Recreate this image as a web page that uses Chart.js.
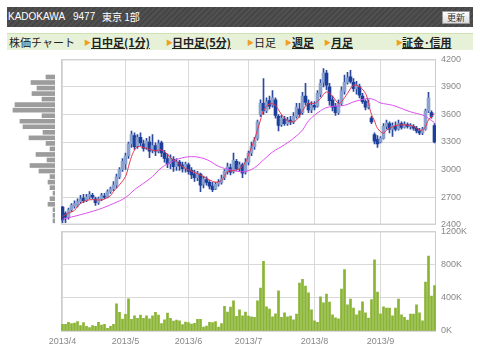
<!DOCTYPE html>
<html>
<head>
<meta charset="utf-8">
<script src="https://cdn.jsdelivr.net/npm/chart.js@4.4.0/dist/chart.umd.min.js"></script>
<style>
body { margin:0; background:#fff; width:480px; height:354px; position:relative; overflow:hidden; font-family:"Liberation Sans", Arial, "Noto Sans CJK JP", sans-serif; }
#head { position:absolute; left:7px; top:7px; width:466px; height:20px; background:repeating-linear-gradient(135deg,#505050 0 2px,#464646 2px 4px); color:#fff; font-size:10px; line-height:20px; }
#head span { position:absolute; top:0; white-space:nowrap; }
#head .btn { left:435px; top:4px; width:26px; height:11px; background:linear-gradient(#fff,#dcdcdc); border:1px solid #999; color:#333; font-size:9px; line-height:11px; text-align:center; font-family:"Noto Sans CJK JP"; }
#nav { position:absolute; left:7px; top:33px; width:466px; height:16px; background:#e7f1d8; border-top:1px solid #cfe2b5; font-size:11px; line-height:16px; color:#222; font-family:"Noto Sans CJK JP"; }
#nav span { position:absolute; top:0; white-space:nowrap; }
#nav .ar { color:#f0a020; font-size:7px; }
#nav .lk { font-weight:bold; text-decoration:underline; }
canvas { position:absolute; }
</style>
</head>
<body>
<div id="head">
  <span style="left:1px">KADOKAWA</span>
  <span style="left:66px">9477</span>
  <span style="left:95px;font-family:'Noto Sans CJK JP'">東京 1部</span>
  <span class="btn">更新</span>
</div>
<div id="nav">
  <span style="left:2px">株価チャート</span>
  <span class="ar" style="left:77px">▶</span><span class="lk" style="left:84px">日中足(1分)</span>
  <span class="ar" style="left:159px">▶</span><span class="lk" style="left:165px">日中足(5分)</span>
  <span class="ar" style="left:240px">▶</span><span style="left:247px">日足</span>
  <span class="ar" style="left:278px">▶</span><span class="lk" style="left:285px">週足</span>
  <span class="ar" style="left:317px">▶</span><span class="lk" style="left:324px">月足</span>
  <span class="ar" style="left:389px">▶</span><span class="lk" style="left:395px">証金･信用</span>
</div>
<canvas id="profile" width="58" height="180" style="left:0;top:50px"></canvas>
<canvas id="price" width="480" height="186" style="left:0;top:49px"></canvas>
<canvas id="volume" width="480" height="133" style="left:0;top:221px"></canvas>
<script>
// trading days, 2013/4 - 2013/9
const aprDays = [1,2,3,4,5,8,9,10,11,12,15,16,17,18,19,22,23,24,25,26,30];
const mayDays = [1,2,7,8,9,10,13,14,15,16,17,20,21,22,23,24,27,28,29,30,31];
const junDays = [3,4,5,6,7,10,11,12,13,14,17,18,19,20,21,24,25,26,27,28];
const julDays = [1,2,3,4,5,8,9,10,11,12,16,17,18,19,22,23,24,25,26,29,30,31];
const augDays = [1,2,5,6,7,8,9,12,13,14,15,16,19,20,21,22,23,26,27,28,29,30];
const sepDays = [2,3,4,5,6,9,10,11,12,13,17,18,19,20,24,25,26,27,30];
const monthLabels = ['2013/4','2013/5','2013/6','2013/7','2013/8','2013/9'];

const opens = [
2590,2520,2480,2560,2600,2610,2650,2690,2660,2700,
2720,2680,2640,2680,2710,2700,2760,2790,2830,2920,
3000,3060,3150,3280,3370,3260,3350,3280,3240,3300,
3210,3260,3200,3290,3180,3120,3060,3110,3030,3080,
3050,3010,3050,2990,2950,2910,2950,2840,2890,2860,
2820,2790,2840,2860,2910,2980,3020,2980,3090,3010,
3050,2970,3080,3180,3250,3340,3600,3720,3640,3750,
3700,3760,3580,3490,3550,3500,3540,3520,3580,3660,
3620,3800,3720,3650,3700,3690,3820,3950,4050,3900,
3760,3690,3620,3720,3850,3950,4010,3950,3880,3900,
3800,3740,3680,3560,3380,3330,3300,3340,3470,3500,
3440,3470,3440,3500,3460,3490,3470,3470,3450,3420,
3400,3440,3640,3620,3480];
const closes = [
2450,2480,2560,2610,2630,2650,2680,2660,2700,2730,
2700,2640,2680,2720,2700,2760,2790,2830,2920,3000,
3090,3150,3280,3380,3250,3350,3290,3230,3310,3200,
3260,3200,3280,3180,3120,3060,3120,3030,3080,3040,
3010,3060,2980,2940,2910,2960,2830,2900,2860,2820,
2780,2840,2860,2900,2980,3030,2970,3100,3010,3050,
2960,3080,3180,3250,3320,3520,3720,3640,3740,3690,
3780,3590,3480,3560,3500,3540,3520,3580,3680,3600,
3800,3730,3650,3700,3680,3830,3940,4050,3920,3750,
3680,3620,3720,3860,3950,4000,3960,3880,3920,3810,
3740,3680,3720,3520,3310,3280,3340,3470,3510,3440,
3480,3440,3500,3460,3490,3470,3480,3450,3420,3400,
3440,3640,3780,3580,3300];
const highs = [
2600,2540,2580,2630,2660,2680,2720,2730,2730,2760,
2740,2700,2700,2740,2740,2780,2810,2870,2950,3020,
3120,3180,3300,3420,3400,3380,3400,3320,3340,3360,
3380,3290,3320,3310,3210,3170,3160,3140,3120,3100,
3080,3080,3070,3020,2990,2980,2960,2930,2920,2880,
2860,2860,2890,2940,3000,3070,3060,3180,3110,3080,
3070,3120,3200,3300,3350,3540,3760,3990,3780,3800,
3860,3780,3600,3590,3580,3570,3580,3620,3720,3720,
3840,3940,3760,3740,3740,3860,3980,4100,4080,3940,
3800,3720,3760,3900,4030,4060,4080,3990,3960,3930,
3830,3760,3760,3580,3400,3370,3360,3500,3540,3520,
3510,3520,3540,3520,3520,3510,3500,3490,3470,3450,
3460,3660,3840,3640,3500];
const lows = [
2420,2420,2460,2540,2580,2590,2630,2640,2650,2680,
2680,2610,2620,2660,2680,2690,2740,2770,2800,2900,
2980,3000,3120,3240,3220,3230,3260,3200,3220,3130,
3180,3150,3180,3140,3080,3020,3010,2980,2990,2990,
2970,2970,2950,2900,2870,2880,2760,2800,2830,2790,
2760,2780,2820,2840,2890,2950,2940,2960,2990,2980,
2910,2950,3050,3150,3220,3320,3580,3600,3620,3660,
3680,3560,3420,3470,3480,3480,3490,3500,3560,3570,
3600,3700,3620,3620,3650,3680,3790,3900,3870,3700,
3640,3590,3600,3700,3820,3930,3940,3850,3820,3780,
3720,3650,3660,3500,3280,3240,3290,3330,3440,3400,
3360,3420,3430,3440,3450,3450,3440,3430,3400,3380,
3380,3430,3620,3560,3290];

// volume, thousand shares
const volumes = [
80,80,104,88,96,112,64,100,56,40,
64,56,104,72,80,32,56,80,328,224,
144,200,388,140,184,152,192,152,184,148,
184,224,192,88,136,216,152,120,132,124,
76,108,100,84,92,140,140,48,60,104,
100,112,48,88,296,228,288,364,176,256,
184,228,180,172,164,364,516,840,292,264,
172,208,484,164,220,172,180,136,204,576,
624,540,460,256,124,104,412,340,444,348,
196,160,148,504,740,316,384,276,196,244,
352,220,156,380,856,468,208,292,276,276,
184,276,384,196,164,132,204,204,316,220,
124,588,904,420,548];

// moving averages (day index -> price)
const maShortDays = [0,2,4,5,7,9,11,13,14,16,17,19,21,22,23,24,25,27,29,31,33,35,36,38,40,42,45,47,49,51,53,54,55,57,59,61,62,64,66,67,69,71,72,74,76,78,80,82,84,86,88,90,92,93,95,97,99,101,102,103,104,105,107,108,110,112,115,117,119,120,121,122,124];
const maShort = [2490,2525,2555,2600,2650,2670,2670,2668,2680,2715,2760,2834,2924,3032,3140,3213,3249,3240,3220,3205,3213,3165,3127,3087,3032,2996,2955,2924,2888,2863,2880,2930,2975,2990,3010,3080,3159,3330,3540,3640,3715,3700,3650,3560,3520,3540,3640,3720,3720,3775,3846,3800,3720,3740,3830,3918,3900,3830,3720,3600,3530,3450,3395,3430,3466,3484,3484,3470,3430,3430,3466,3540,3610];
const maLongDays = [0,6,12,17,21,24,27,30,33,37,40,43,46,49,52,56,59,61,64,67,70,74,77,80,82,86,89,94,97,100,102,104,106,110,113,116,120,122,124];
const maLong = [2458,2508,2565,2630,2695,2780,2850,2924,3020,3094,3128,3140,3130,3094,3035,2996,2978,2978,3020,3105,3190,3270,3340,3430,3530,3640,3683,3700,3737,3763,3774,3760,3726,3700,3665,3629,3593,3557,3510];

// volume by price
const profilePrices = [4005,3945,3885,3825,3765,3705,3645,3585,3525,3465,3405,3345,3285,3225,3165,3105,3045,2985,2925,2865,2805,2745,2685,2625,2565,2505,2445];
const profileVolumes = [9,24,18,23,13,40,42,13,35,32,12,26,9,5,19,8,25,16,5,7,5,2,5,7,2,2,2];

const labels = [];
const monthStart = [];
[aprDays, mayDays, junDays, julDays, augDays, sepDays].forEach((days, m) => {
    monthStart.push(labels.length);
    days.forEach(d => labels.push(`2013/${m + 4}/${d}`));
});

const GRID = '#d9d9d9';
const TICK_FONT = { family: 'Liberation Sans, Arial', size: 9 };

// light frame round the plot
const framePlugin = {
    id: 'frame',
    beforeDatasetsDraw(chart) {
        const { ctx, chartArea: a } = chart;
        ctx.save();
        ctx.strokeStyle = '#cccccc';
        ctx.lineWidth = 1;
        ctx.strokeRect(a.left + 0.5, a.top + 0.5, a.width - 1, a.height - 1);
        ctx.restore();
    }
};

const xGrid = {
    offset: false,
    drawTicks: false,
    color: c => monthStart.includes(c.index) ? GRID : 'rgba(0,0,0,0)'
};

new Chart(document.getElementById('price'), {
    type: 'bar',
    data: {
        labels: labels,
        datasets: [
            {
                type: 'line',
                data: maShortDays.map((d, i) => ({ x: labels[d], y: maShort[i] })),
                borderColor: '#e8334f',
                borderWidth: 1,
                pointRadius: 0,
                tension: 0.4,
                order: 0
            },
            {
                type: 'line',
                data: maLongDays.map((d, i) => ({ x: labels[d], y: maLong[i] })),
                borderColor: '#dd4ef0',
                borderWidth: 1,
                pointRadius: 0,
                tension: 0.4,
                order: 0
            },
            {
                data: opens.map((o, i) => [o, closes[i]]),
                backgroundColor: opens.map((o, i) => closes[i] >= o ? '#8ba2cf' : '#1d3f9c'),
                barThickness: 3,
                minBarLength: 1,
                grouped: false,
                order: 1
            },
            {
                data: lows.map((l, i) => [l, highs[i]]),
                backgroundColor: '#2c4a9e',
                barThickness: 1,
                grouped: false,
                order: 2
            }
        ]
    },
    options: {
        responsive: false,
        animation: false,
        layout: { padding: { left: 61, top: 9, bottom: 0, right: 0 } },
        plugins: { legend: { display: false }, tooltip: { enabled: false } },
        scales: {
            x: {
                afterFit: s => { s.height = 0; },
                grid: xGrid,
                border: { display: false },
                ticks: { display: false }
            },
            y: {
                position: 'right',
                min: 2400,
                max: 4200,
                afterFit: s => { s.width = 44; },
                grid: { color: GRID, drawTicks: false },
                border: { display: false },
                ticks: { stepSize: 300, color: '#888', font: TICK_FONT, padding: 5, callback: v => String(v) }
            }
        }
    },
    plugins: [framePlugin]
});

new Chart(document.getElementById('volume'), {
    type: 'bar',
    data: {
        labels: labels,
        datasets: [{
            data: volumes,
            backgroundColor: '#8ab534',
            barThickness: 2
        }]
    },
    options: {
        responsive: false,
        animation: false,
        layout: { padding: { left: 61, top: 5, bottom: 0, right: 0 } },
        plugins: { legend: { display: false }, tooltip: { enabled: false } },
        scales: {
            x: {
                afterFit: s => { s.height = 23; },
                grid: xGrid,
                border: { display: false },
                ticks: {
                    autoSkip: false,
                    maxRotation: 0,
                    color: '#888',
                    font: TICK_FONT,
                    padding: 5,
                    callback: (v, i) => {
                        const m = monthStart.indexOf(i);
                        return m >= 0 ? monthLabels[m] : '';
                    }
                }
            },
            y: {
                position: 'right',
                min: 0,
                max: 1200,
                afterFit: s => { s.width = 44; },
                grid: { color: GRID, drawTicks: false },
                border: { display: false },
                ticks: { stepSize: 400, color: '#888', font: TICK_FONT, padding: 5, callback: v => v + 'K' }
            }
        }
    },
    plugins: [framePlugin]
});

new Chart(document.getElementById('profile'), {
    type: 'bar',
    data: {
        datasets: [{
            data: profilePrices.map((p, i) => ({ x: profileVolumes[i], y: p })),
            backgroundColor: '#9c9c9c',
            barThickness: 4
        }]
    },
    options: {
        indexAxis: 'y',
        responsive: false,
        animation: false,
        layout: { padding: { left: 0, top: 9, bottom: 5, right: 3 } },
        plugins: { legend: { display: false }, tooltip: { enabled: false } },
        scales: {
            x: { display: false, reverse: true, min: 0, max: 55 },
            y: { display: false, type: 'linear', offset: false, min: 2400, max: 4200 }
        }
    }
});
</script>
</body>
</html>
